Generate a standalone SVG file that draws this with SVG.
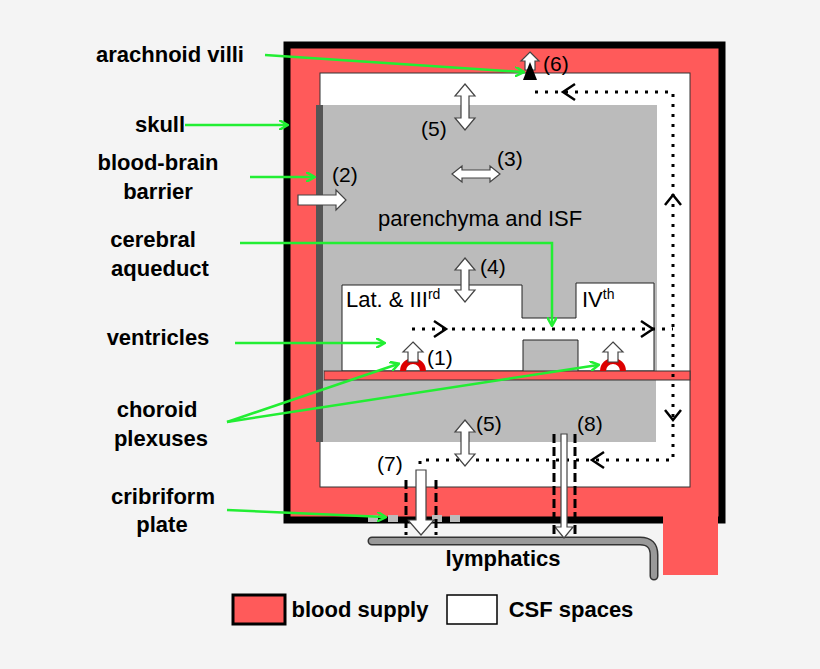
<svg xmlns="http://www.w3.org/2000/svg" width="820" height="669" viewBox="0 0 820 669">
<defs>
<style>
.lbl{font-family:"Liberation Sans",Arial,sans-serif;font-weight:bold;font-size:22px;fill:#000;text-anchor:middle}
.num{font-family:"Liberation Sans",Arial,sans-serif;font-size:21px;fill:#000}
.big{font-size:22px}
.g{stroke:#22ee33;stroke-width:2.5;fill:none;marker-end:url(#ga)}
.dot{stroke:#000;stroke-width:3;stroke-dasharray:3 7;fill:none}
.chev{stroke:#000;stroke-width:2.5;fill:none}
.wa{fill:#fff;stroke:#444;stroke-width:1.2}
.dash{stroke:#000;stroke-width:3;stroke-dasharray:9 4;fill:none}
</style>
<marker id="ga" markerWidth="10" markerHeight="10" refX="8" refY="5" orient="auto" markerUnits="userSpaceOnUse"><path d="M0,0 L9,5 L0,10" fill="none" stroke="#22ee33" stroke-width="2.5"/></marker>
</defs>
<rect width="820" height="669" fill="#f4f4f4"/>
<g id="skull">
<path d="M287,45 H722 V520 H287 Z" fill="#ff5a5a" stroke="#000" stroke-width="7"/>
<rect x="663" y="512" width="55" height="63" fill="#ff5a5a"/>
</g>
<g id="csf"><rect x="320" y="73" width="370" height="414" fill="#fff" stroke="#333" stroke-width="1"/></g>
<g id="parenchyma">
<path d="M316,105 H657 V371 H316 Z" fill="#bbb"/>
<path d="M342,285 H522 V318 H576 V283 H654 V371 H578 V340 H523 V371 H342 Z" fill="#fff" stroke="#222" stroke-width="1"/>
<rect x="316" y="380" width="340" height="62" fill="#bbb"/>
<rect x="316" y="105" width="7" height="337" fill="#555"/>
<rect x="324" y="371" width="366" height="9" fill="#ff5a5a" stroke="#333" stroke-width="1"/>
</g>
<g id="cribriform">
<rect x="368" y="515" width="10" height="7" fill="#bbb"/><rect x="388" y="515" width="10" height="7" fill="#bbb"/>
<rect x="432" y="515" width="10" height="7" fill="#bbb"/><rect x="450" y="515" width="10" height="7" fill="#bbb"/>
</g>
<g id="lymphatics">
<path d="M372,541 H640 Q654,541 654,555 V576" fill="none" stroke="#333" stroke-width="9" stroke-linecap="round"/>
<path d="M372,541 H640 Q654,541 654,555 V576" fill="none" stroke="#999" stroke-width="6" stroke-linecap="round"/>
<text class="lbl" x="503" y="566">lymphatics</text>
</g>
<g id="flows">
<path class="dot" d="M535,92 H673 V460 H420 V470"/>
<path class="dot" d="M412,329 H673"/>
<path class="chev" d="M575,84 L563,92 L575,100 M665,205 L673,195 L681,205 M665,410 L673,420 L681,410 M604,452 L592,460 L604,468 M434,321 L446,329 L434,337 M641,321 L653,329 L641,337"/>
</g>
<g id="choroid">
<path d="M403,371 A10,10 0 0 1 423,371" fill="none" stroke="#d00" stroke-width="6"/>
<path d="M603,371 A10,10 0 0 1 623,371" fill="none" stroke="#d00" stroke-width="6"/>
</g>
<g id="arrows">
<path class="wa" d="M465,84 L475,96 H469 V118 H475 L465,130 L455,118 H461 V96 H455 Z"/>
<path class="wa" d="M452,174 L462,166 V170 H490 V166 L500,174 L490,182 V178 H462 V182 Z"/>
<path class="wa" d="M298,195 H336 V190 L346,200 L336,210 V205 H298 Z"/>
<path class="wa" d="M465,258 L475,270 H469 V290 H475 L465,302 L455,290 H461 V270 H455 Z"/>
<path class="wa" d="M465,420 L475,432 H469 V454 H475 L465,466 L455,454 H461 V432 H455 Z"/>
<path class="wa" d="M413,342 L423,352 H418 V362 H408 V352 H403 Z"/>
<path class="wa" d="M613,342 L623,352 H618 V362 H608 V352 H603 Z"/>
<path class="wa" d="M530,52 L539,61 H535 V70 H525 V61 H521 Z"/>
<path d="M530,62 L537,80 H523 Z" fill="#000"/>
<path class="wa" d="M416,470 H426 V520 H434 L421,535 L408,520 H416 Z"/>
<path class="wa" d="M561,434 H567 V527 H573 L564,538 L555,527 H561 Z"/>
<path class="dash" d="M406,480 V535 M436,480 V535 M554,434 V535 M575,434 V535"/>
</g>
<g id="numbers">
<text class="num" x="421" y="136">(5)</text>
<text class="num" x="497" y="166">(3)</text>
<text class="num" x="332" y="182">(2)</text>
<text class="num" x="480" y="274">(4)</text>
<text class="num" x="427" y="365">(1)</text>
<text class="num" x="543" y="71">(6)</text>
<text class="num" x="476" y="431">(5)</text>
<text class="num" x="377" y="471">(7)</text>
<text class="num" x="577" y="431">(8)</text>
<text class="num big" x="346" y="307">Lat. &amp; III<tspan dy="-8" font-size="14">rd</tspan></text>
<text class="num big" x="582" y="307">IV<tspan dy="-8" font-size="14">th</tspan></text>
<text class="num big" x="378" y="226">parenchyma and ISF</text>
</g>
<g id="labels">
<text class="lbl" x="170" y="62">arachnoid villi</text>
<text class="lbl" x="160" y="132">skull</text>
<text class="lbl" x="158" y="170">blood-brain</text>
<text class="lbl" x="158" y="199">barrier</text>
<text class="lbl" x="153" y="247">cerebral</text>
<text class="lbl" x="160" y="276">aqueduct</text>
<text class="lbl" x="158" y="345">ventricles</text>
<text class="lbl" x="157" y="417">choroid</text>
<text class="lbl" x="161" y="446">plexuses</text>
<text class="lbl" x="163" y="504">cribriform</text>
<text class="lbl" x="162" y="532">plate</text>
</g>
<g id="connectors">
<path class="g" d="M265,55 L523,72"/>
<path class="g" d="M185,125 H287"/>
<path class="g" d="M250,177 H314"/>
<path class="g" d="M240,243 H552 V325"/>
<path class="g" d="M235,343 H384"/>
<path class="g" d="M227,422 L398,364"/>
<path class="g" d="M227,422 L598,365"/>
<path class="g" d="M227,510 L385,517"/>
</g>
<g id="legend">
<rect x="233" y="595" width="52" height="29" fill="#ff5a5a" stroke="#000" stroke-width="3"/>
<text class="lbl" x="360" y="617">blood supply</text>
<rect x="447" y="595" width="50" height="29" fill="#fff" stroke="#000" stroke-width="1.5"/>
<text class="lbl" x="571" y="617">CSF spaces</text>
</g>
</svg>
